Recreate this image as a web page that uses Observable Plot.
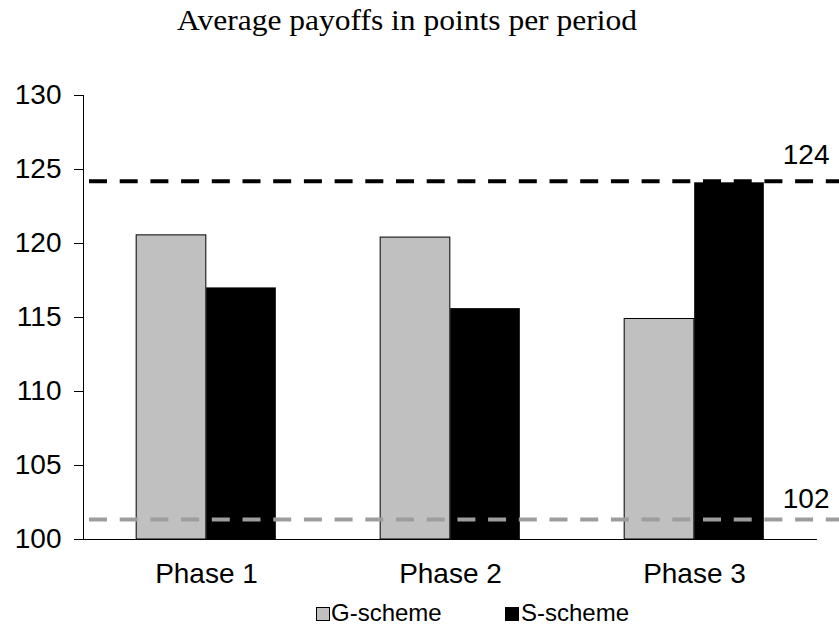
<!DOCTYPE html>
<html><head><meta charset="utf-8">
<script src="https://cdn.jsdelivr.net/npm/d3@7"></script>
<script src="https://cdn.jsdelivr.net/npm/@observablehq/plot@0.6"></script>
<style>
body{margin:0;background:#fff;width:839px;height:635px;overflow:hidden;font-family:"Liberation Sans",Arial,sans-serif;color:#000;}
#title{height:40px;}
#chart{height:555px;}
#legend{position:relative;height:40px;font-size:24px;}
.sw{position:absolute;top:12px;width:12px;height:12px;border:1px solid #000;}
.lt{position:absolute;top:6px;line-height:24px;white-space:nowrap;}
</style></head><body>
<div id="title"></div>
<div id="chart"></div>
<div id="legend"></div>
<script>
const titleText = "Average payoffs in points per period";
const phases = ["Phase 1", "Phase 2", "Phase 3"];
const schemes = ["G-scheme", "S-scheme"];
const gValues = [120.55, 120.4, 114.9];
const sValues = [117.0, 115.6, 124.1];
const refValues = [124.2, 101.35];
const refLabels = ["124", "102"];
const yTicks = [100, 105, 110, 115, 120, 125, 130];
const colors = ["#c0c0c0", "#000000"];
const refColors = ["#000000", "#9d9d9d"];

// title
document.getElementById("title").innerHTML =
  `<svg width="839" height="40"><text x="407" y="30" text-anchor="middle" font-family="Liberation Serif, serif" font-size="30" textLength="460" lengthAdjust="spacingAndGlyphs"></text></svg>`;
document.querySelector("#title text").textContent = titleText;

const rows = phases.flatMap((p, i) => [
  {phase: p, scheme: schemes[0], value: gValues[i]},
  {phase: p, scheme: schemes[1], value: sValues[i]}
]);

const W = 839, H = 555, ML = 83, MR = 23, MT = 55, MB = 56;
const bw = (W - ML - MR) / phases.length;
const barW = 70;
const inner = bw / 2 - barW;
const dash = {strokeWidth: 4, strokeDasharray: "18,12.7", insetLeft: 6, insetRight: -MR};

const chart = Plot.plot({
  width: W, height: H,
  marginLeft: ML, marginRight: MR, marginTop: MT, marginBottom: MB,
  style: {fontFamily: "Liberation Sans, Arial, sans-serif", fontSize: "28px", color: "#000", background: "#fff", overflow: "visible"},
  x: {domain: phases, padding: 0, tickSize: 0, tickPadding: 24, line: true, label: null},
  y: {domain: [100, 130], ticks: yTicks, tickSize: 9, tickPadding: 13, line: true, label: null, clamp: true},
  marks: [
    Plot.barY(rows.filter(d => d.scheme === schemes[0]), {x: "phase", y: "value", fill: colors[0], stroke: "#000", strokeWidth: 1, insetLeft: inner, insetRight: bw / 2}),
    Plot.barY(rows.filter(d => d.scheme === schemes[1]), {x: "phase", y: "value", fill: colors[1], insetLeft: bw / 2, insetRight: inner}),
    Plot.ruleY([refValues[0]], {stroke: refColors[0], ...dash}),
    Plot.ruleY([refValues[1]], {stroke: refColors[1], ...dash}),
    Plot.text([refLabels[0]], {y: () => refValues[0], text: d => d, frameAnchor: "right", textAnchor: "end", lineAnchor: "bottom", dx: 13, dy: -17, fill: "#000"}),
    Plot.text([refLabels[1]], {y: () => refValues[1], text: d => d, frameAnchor: "right", textAnchor: "end", lineAnchor: "bottom", dx: 13, dy: -11.5, fill: "#000"})
  ]
});
document.getElementById("chart").appendChild(chart);

// legend
const legend = document.getElementById("legend");
const swX = [316, 505], txtX = [331, 521];
schemes.forEach((s, i) => {
  const sw = document.createElement("span");
  sw.className = "sw";
  sw.style.left = swX[i] + "px";
  sw.style.background = colors[i];
  legend.appendChild(sw);
  const t = document.createElement("span");
  t.className = "lt";
  t.style.left = txtX[i] + "px";
  t.textContent = s;
  legend.appendChild(t);
});
</script>
</body></html>
